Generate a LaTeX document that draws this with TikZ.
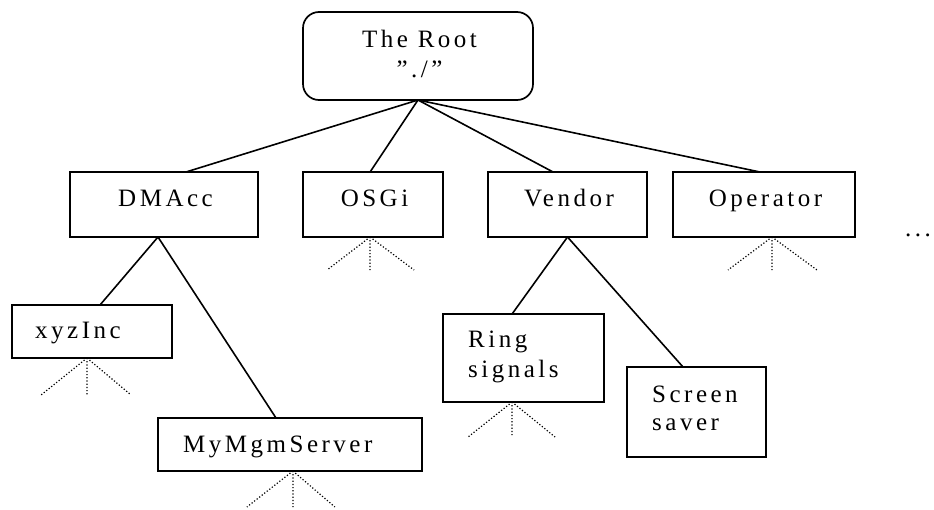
\documentclass[tikz,border=0pt]{standalone}
\usepackage{fontspec}
\setmainfont{Liberation Serif}[LetterSpace=14]
\usetikzlibrary{calc}
\tikzset{
  box/.style={draw, line width=1.7pt, inner sep=0pt, outer sep=0pt},
  lbl/.style={inner sep=0pt, font=\fontsize{25}{30}\selectfont},
  edge/.style={line width=1.6pt},
  fan/.style={line width=1.2pt, dash pattern=on 1.2pt off 2pt},
}
\begin{document}
\begin{tikzpicture}[x=1pt,y=-1pt]
\useasboundingbox (0,0) rectangle (934,509);
% boxes
\node[box, rounded corners=16pt, minimum width=230pt, minimum height=88pt] (root) at (418,56) {};
\node[box, minimum width=188pt, minimum height=65pt] (dmacc) at (164,204.5) {};
\node[box, minimum width=140pt, minimum height=65pt] (osgi) at (373,204.5) {};
\node[box, minimum width=159pt, minimum height=65pt] (vendor) at (567.5,204.5) {};
\node[box, minimum width=182pt, minimum height=65pt] (operator) at (764,204.5) {};
\node[box, minimum width=160pt, minimum height=53pt] (xyz) at (92,331.5) {};
\node[box, minimum width=264pt, minimum height=53pt] (mymgm) at (290,444.5) {};
\node[box, minimum width=161pt, minimum height=88pt] (ring) at (523.5,358) {};
\node[box, minimum width=139pt, minimum height=90pt] (screen) at (696.5,412) {};
% texts
\node[lbl, anchor=base] (root-t1) at (419.5,47) {The Root};
\node[lbl, anchor=base] (root-t2) at (419.5,77) {”./”};
\node[lbl, anchor=base] (dmacc-t) at (165.5,206) {DMAcc};
\node[lbl, anchor=base] (osgi-t) at (374.5,206) {OSGi};
\node[lbl, anchor=base] (vendor-t) at (569,206) {Vendor};
\node[lbl, anchor=base] (operator-t) at (765.5,206) {Operator};
\node[lbl, anchor=base west] (xyz-t) at (35,338) {xyzInc};
\node[lbl, anchor=base west] (mymgm-t) at (183,452) {MyMgmServer};
\node[lbl, anchor=base west] (ring-t1) at (468,347) {Ring};
\node[lbl, anchor=base west] (ring-t2) at (468,377) {signals};
\node[lbl, anchor=base west] (screen-t1) at (652,402) {Screen};
\node[lbl, anchor=base west] (screen-t2) at (652,430) {saver};
\node[lbl, anchor=base] (more) at (918,236) {...};
% connectors
\draw[edge] (root.south) -- ($(dmacc.north west)!0.617!(dmacc.north east)$);
\draw[edge] (root.south) -- ($(osgi.north west)!0.479!(osgi.north east)$);
\draw[edge] (root.south) -- ($(vendor.north west)!0.409!(vendor.north east)$);
\draw[edge] (root.south) -- ($(operator.north west)!0.478!(operator.north east)$);
\draw[edge] ($(dmacc.south west)!0.468!(dmacc.south east)$) -- ($(xyz.north west)!0.55!(xyz.north east)$);
\draw[edge] ($(dmacc.south west)!0.468!(dmacc.south east)$) -- ($(mymgm.north west)!0.447!(mymgm.north east)$);
\draw[edge] (vendor.south) -- ($(ring.north west)!0.429!(ring.north east)$);
\draw[edge] (vendor.south) -- ($(screen.north west)!0.403!(screen.north east)$);
% dotted fans
\coordinate (osgi-f) at ($(osgi.south west)!0.479!(osgi.south east)$);
\coordinate (xyz-f) at ($(xyz.south west)!0.469!(xyz.south east)$);
\coordinate (mymgm-f) at ($(mymgm.south west)!0.511!(mymgm.south east)$);
\coordinate (ring-f) at ($(ring.south west)!0.429!(ring.south east)$);
\coordinate (operator-f) at ($(operator.south west)!0.544!(operator.south east)$);
\draw[fan] (osgi-f) -- ++(-43,33) (osgi-f) -- ++(0,33) (osgi-f) -- ++(44,33);
\draw[fan] (xyz-f) -- ++(-46,37) (xyz-f) -- ++(0,37) (xyz-f) -- ++(44,37);
\draw[fan] (mymgm-f) -- ++(-46,36) (mymgm-f) -- ++(0,36) (mymgm-f) -- ++(42,36);
\draw[fan] (ring-f) -- ++(-44,35) (ring-f) -- ++(0,35) (ring-f) -- ++(43,35);
\draw[fan] (operator-f) -- ++(-44,33) (operator-f) -- ++(0,33) (operator-f) -- ++(45,33);
\end{tikzpicture}
\end{document}
